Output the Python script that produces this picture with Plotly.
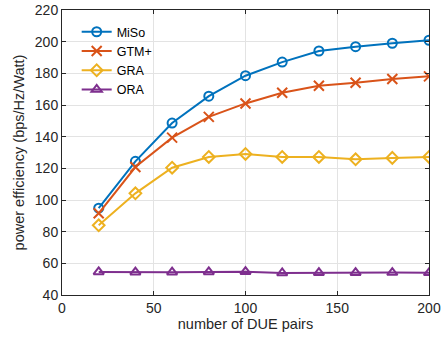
import plotly.graph_objects as go

x_pairs = [20, 40, 60, 80, 100, 120, 140, 160, 180, 200]
miso = [94.8, 124.4, 148.6, 165.6, 178.5, 187.1, 194.1, 196.8, 199.0, 200.9]
gtm = [91.6, 120.8, 139.4, 152.5, 161.0, 167.7, 172.2, 174.0, 176.4, 178.1]
gra = [84.0, 104.2, 120.4, 127.2, 129.1, 127.2, 127.2, 125.7, 126.6, 127.2]
ora = [54.6, 54.4, 54.4, 54.6, 54.7, 53.9, 54.1, 54.1, 54.2, 54.0]

names = ["MiSo", "GTM+", "GRA", "ORA"]
colors = ["#0072BD", "#D95319", "#EDB120", "#7E2F8E"]
symbols = ["circle-open", "x-thin-open", "diamond-open", "triangle-up-open"]
series = [miso, gtm, gra, ora]

x_ticks = [0, 50, 100, 150, 200]
y_ticks = [40, 60, 80, 100, 120, 140, 160, 180, 200, 220]

fig = go.Figure()
for name, col, sym, ys in zip(names, colors, symbols, series):
    fig.add_trace(go.Scatter(
        x=x_pairs, y=ys, name=name, mode="lines+markers",
        line=dict(color=col, width=2),
        marker=dict(symbol=sym, size=9 if sym != "x-thin-open" else 10,
                    color=col, line=dict(color=col, width=2)),
    ))

axis_common = dict(
    showgrid=True, gridcolor="#E3E3E3", gridwidth=1,
    showline=True, linecolor="#262626", linewidth=1, mirror="ticks",
    ticks="inside", ticklen=4, tickcolor="#262626",
    tickfont=dict(family="Liberation Sans, Arial", size=14, color="#262626"),
    zeroline=False, automargin=False,
)

fig.update_layout(
    width=442, height=341,
    margin=dict(l=62, r=13, t=10, b=46),
    paper_bgcolor="white", plot_bgcolor="white",
    font=dict(family="Liberation Sans, Arial", color="#262626"),
    xaxis=dict(range=[0, 200], tickvals=x_ticks,
               title=dict(text="number of DUE pairs", font=dict(size=14.5), standoff=4),
               **axis_common),
    yaxis=dict(range=[40, 220], tickvals=y_ticks,
               title=dict(text="power efficiency (bps/Hz/Watt)", font=dict(size=14.5), standoff=6),
               **axis_common),
    legend=dict(x=0.04, y=0.975, xanchor="left", yanchor="top",
                bgcolor="rgba(255,255,255,0)", borderwidth=0,
                font=dict(size=12.5, color="#000000"), tracegroupgap=0,
                itemwidth=30),
    showlegend=True,
)

fig.write_html("out.html", config={"displayModeBar": False},
               post_script="document.body.style.margin='0';document.body.style.overflow='hidden';")
